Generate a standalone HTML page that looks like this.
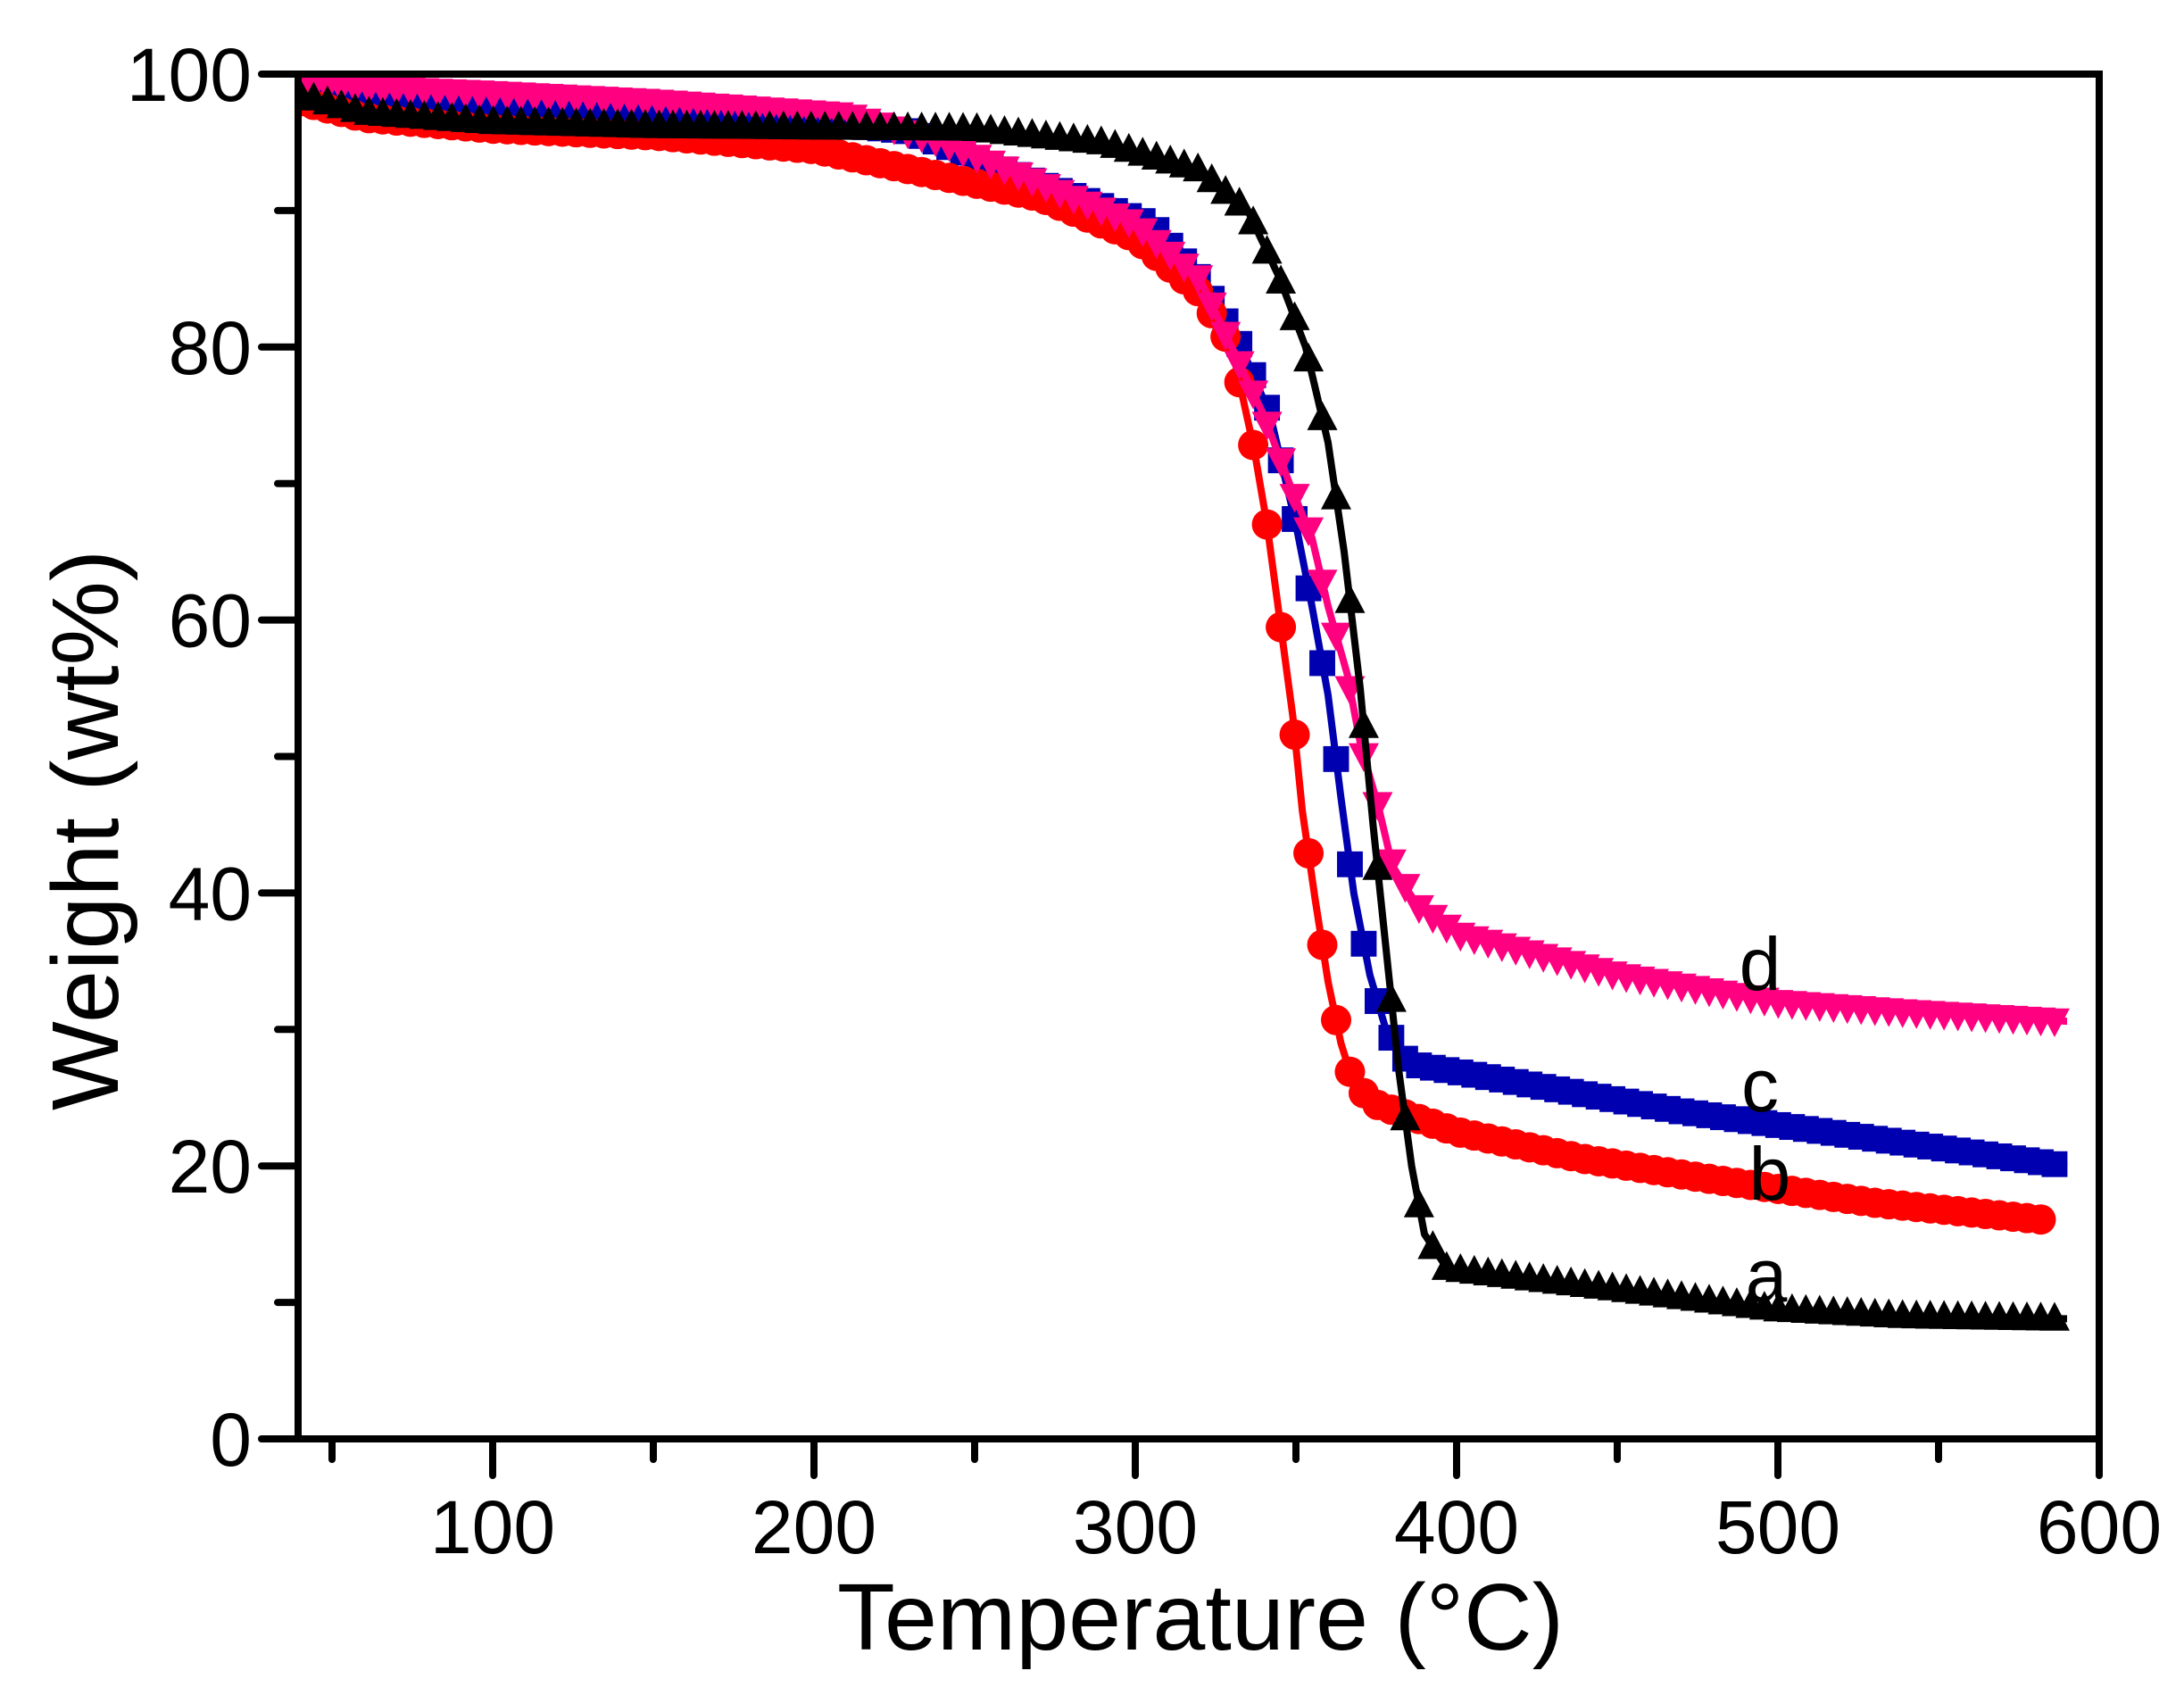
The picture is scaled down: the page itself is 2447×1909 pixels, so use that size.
<!DOCTYPE html>
<html><head><meta charset="utf-8"><style>
html,body{margin:0;padding:0;background:#fff;}
svg{display:block;}
text{font-family:"Liberation Sans",Arial,sans-serif;fill:#000;}
</style></head><body>
<svg id="s" width="2447" height="1909" viewBox="0 0 2447 1909" xmlns="http://www.w3.org/2000/svg">
<defs><clipPath id="cp"><rect x="334" y="83" width="2018" height="1529"/></clipPath></defs>
<g id="data" clip-path="url(#cp)"></g>
<g id="axes" stroke="#000" stroke-width="8" fill="none" stroke-linecap="round"></g>
<g id="lbl" font-size="84"></g>
<text x="1345" y="1848" font-size="106" text-anchor="middle">Temperature (°C)</text>
<text transform="translate(132,930) rotate(-90)" font-size="106" text-anchor="middle">Weight (wt%)</text>
<g font-size="84" text-anchor="middle">
<text x="1972" y="1109">d</text>
<text x="1972" y="1245">c</text>
<text x="1983" y="1344">b</text>
<text x="1979" y="1458">a</text>
</g>
</svg>
<script>
const NS="http://www.w3.org/2000/svg";
const X=v=>552+(v-100)*3.6, Y=v=>1612-v*15.29;
const ax=document.getElementById('axes'), lb=document.getElementById('lbl'), dg=document.getElementById('data');
function el(t,a,p){const e=document.createElementNS(NS,t);for(const k in a)e.setAttribute(k,a[k]);p.appendChild(e);return e;}
el('rect',{x:334,y:83,width:2018,height:1529},ax);
for(let v=50;v<=600;v+=50){const x=X(v);const L=v%100==0?41:23;el('line',{x1:x,y1:1612,x2:x,y2:1612+L},ax);
 if(v%100==0){const t=el('text',{x:x,y:1740,'text-anchor':'middle'},lb);t.textContent=v;}}
for(let v=0;v<=100;v+=10){const y=Y(v);const L=v%20==0?41:23;el('line',{x1:334,y1:y,x2:334-L,y2:y},ax);
 if(v%20==0){const t=el('text',{x:282,y:y+30,'text-anchor':'end'},lb);t.textContent=v;}}
const series=[
{c:'#0000b0',m:'sq',p:[[40,98.5],[100,97.5],[150,97],[200,96.5],[230,95.8],[270,92],[305,89],[320,85],[333,80],[342,75],[350,67],[355,61],[360,54.5],[364,47],[368,40],[373,34],[378,30],[385,27.5],[410,26.5],[470,24],[530,22],[590,20]]},
{c:'#ff0000',m:'ci',p:[[40,98],[60,96.8],[100,96],[150,95.5],[200,94.5],[230,93],[270,91],[300,88],[320,84],[330,80],[337,72.5],[341,67],[345,60],[349,53],[352,46],[356,39.5],[360,33.5],[364,29],[368,26],[375,24.5],[400,22.5],[440,20.5],[480,19],[530,17.3],[585,16]]},
{c:'#ff0080',m:'dn',p:[[40,99.2],[100,98.6],[150,98],[210,97],[240,95],[260,93],[300,89],[320,85],[330,80],[340,75],[348,70],[355,66],[360,61],[366,56],[370,51],[376,46],[380,42],[388,39],[400,37],[450,34],[500,32],[540,31.3],[590,30.6]]},
{c:'#000000',m:'up',p:[[40,98.5],[60,97.2],[100,96.5],[150,96.2],[250,96],[290,95],[320,93],[335,90],[345,85],[353,80],[360,73],[365,65],[370,55],[374,45],[378,36],[382,27],[386,20],[390,15],[397,12.5],[450,11],[500,9.5],[540,9],[590,8.8]]}
];
function interp(p,x){for(let i=0;i<p.length-1;i++){if(x<=p[i+1][0]){const t=(x-p[i][0])/(p[i+1][0]-p[i][0]);return p[i][1]+t*(p[i+1][1]-p[i][1]);}}return p[p.length-1][1];}
for(const s of series){
 const pts=[];const x0=s.p[0][0],x1=s.p[s.p.length-1][0];
 for(let x=x0;x<=x1;x+=0.25)pts.push([X(x),Y(interp(s.p,x))]);
 el('polyline',{points:pts.map(q=>q[0].toFixed(1)+','+q[1].toFixed(1)).join(' '),fill:'none',stroke:s.c,'stroke-width':8,'stroke-linejoin':'round'},dg);
 const g=el('g',{fill:s.c},dg);const r=17;
 const mk=(x,y)=>{
  if(s.m=='sq')el('rect',{x:x-r*0.85,y:y-r*0.85,width:r*1.7,height:r*1.7},g);
  else if(s.m=='ci')el('circle',{cx:x,cy:y,r:r},g);
  else if(s.m=='up')el('polygon',{points:`${x},${y-r*1.1} ${x-r},${y+r*0.8} ${x+r},${y+r*0.8}`},g);
  else el('polygon',{points:`${x},${y+r*1.1} ${x-r},${y-r*0.8} ${x+r},${y-r*0.8}`},g);};
 for(let x=x0;x<=x1+0.01;x+=4.3)mk(X(x),Y(interp(s.p,x)));
}
</script>
</body></html>
